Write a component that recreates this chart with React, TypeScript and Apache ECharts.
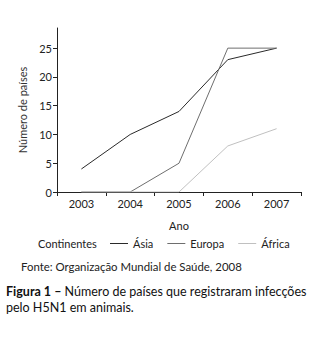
import React, { useEffect, useRef } from "react";
import * as echarts from "echarts";

const years = ["2003", "2004", "2005", "2006", "2007"];
const asia = [4, 10, 14, 23, 25];
const europa = [0, 0, 5, 25, 25];
const africa = [0, 0, 0, 8, 11];
const yTicks = [0, 5, 10, 15, 20, 25];

const FONT = "Lato";

export default function App() {
  const ref = useRef<HTMLDivElement>(null);
  useEffect(() => {
    const chart = echarts.init(ref.current!, null, { renderer: "svg" });
    chart.setOption({
      animation: false,
      backgroundColor: "#fff",
      textStyle: { fontFamily: FONT },
      grid: { left: 57, right: 23, top: 28, bottom: 149 },
      xAxis: {
        type: "category",
        data: years,
        boundaryGap: true,
        name: "Ano",
        nameLocation: "middle",
        nameGap: 28,
        nameTextStyle: { fontSize: 11, color: "#222", fontFamily: FONT },
        axisLine: { lineStyle: { color: "#222", width: 1 } },
        axisTick: { show: true, length: 4, lineStyle: { color: "#222" } },
        axisLabel: { fontSize: 11, color: "#222", margin: 6, fontFamily: FONT },
      },
      yAxis: {
        type: "value",
        min: 0,
        max: 28.5,
        interval: 5,
        name: "Número de países",
        nameLocation: "middle",
        nameGap: 29,
        nameTextStyle: { fontSize: 11, color: "#333", fontFamily: FONT },
        splitLine: { show: false },
        axisLine: { show: true, lineStyle: { color: "#222", width: 1 } },
        axisTick: { show: true, length: 4, customValues: yTicks, lineStyle: { color: "#222" } },
        axisLabel: { fontSize: 11, color: "#222", margin: 5, customValues: yTicks, fontFamily: FONT },
      },
      legend: {
        orient: "horizontal",
        left: 105,
        top: 233,
        icon: "rect",
        itemWidth: 18,
        itemHeight: 1,
        itemGap: 14,
        textStyle: { fontSize: 11, color: "#222", fontFamily: FONT },
        data: ["Ásia", "Europa", "África"],
      },
      series: [
        { name: "Ásia", type: "line", data: asia, symbol: "none", lineStyle: { color: "#2a2a2a", width: 1 }, itemStyle: { color: "#2a2a2a" } },
        { name: "Europa", type: "line", data: europa, symbol: "none", lineStyle: { color: "#6e6e6e", width: 1 }, itemStyle: { color: "#6e6e6e" } },
        { name: "África", type: "line", data: africa, symbol: "none", lineStyle: { color: "#c0c0c0", width: 1 }, itemStyle: { color: "#c0c0c0" } },
      ],
      graphic: [
        {
          type: "text",
          left: 38,
          top: 238,
          style: { text: "Continentes", fontSize: 11, fill: "#222", fontFamily: FONT },
        },
        {
          type: "text",
          left: 21,
          top: 261,
          style: { text: "Fonte: Organização Mundial de Saúde, 2008", fontSize: 11.4, fill: "#222", fontFamily: FONT },
        },
        {
          type: "text",
          left: 6,
          top: 283,
          style: {
            text: "{b|Figura 1 –} Número de países que registraram infecções\npelo H5N1 em animais.",
            fontSize: 12.5,
            lineHeight: 16,
            fill: "#111",
            fontFamily: FONT,
            rich: {
              b: { fontWeight: "bold", fontSize: 12.5, fill: "#111", fontFamily: FONT, lineHeight: 16 },
            },
          },
        },
      ],
    });
    return () => chart.dispose();
  }, []);
  return <div ref={ref} style={{ width: 324, height: 341, position: "absolute", left: 0, top: 0 }} />;
}
